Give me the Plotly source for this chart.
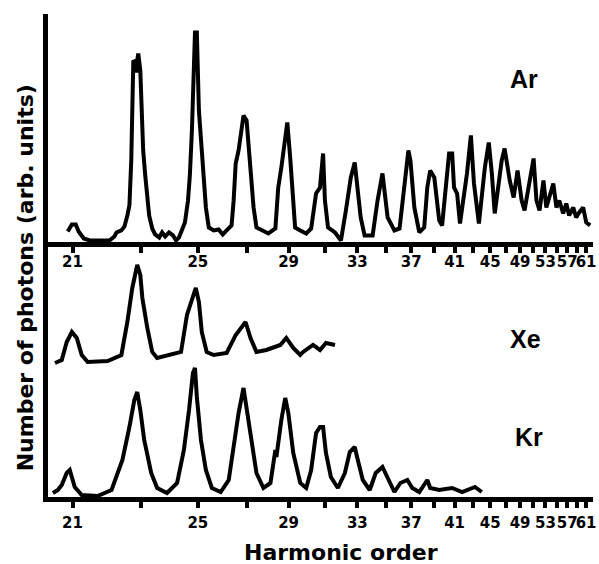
import plotly.graph_objects as go

# ---------------- data ----------------
DRIVER_NM = 800.0                      # fundamental wavelength; harmonic q sits at 800/q nm
harmonic_ticks = list(range(21, 62, 2))   # every odd harmonic gets a tick
harmonic_labels = list(range(21, 62, 4))  # labelled harmonics

# Argon spectrum (top panel): wavelength (nm) vs photon number (arb. units)
ar_wavelength = [38.33, 38.13, 37.94, 37.80, 37.55, 37.26, 36.78, 36.30, 36.06, 35.96,
                 35.72, 35.57, 35.43, 35.33, 35.24, 35.19, 35.14, 35.04, 34.99, 34.95,
                 34.90, 34.80, 34.75, 34.66, 34.56, 34.46, 34.37, 34.22, 34.08, 33.88,
                 33.74, 33.59, 33.40, 33.21, 33.06, 32.92, 32.77, 32.63, 32.48, 32.39,
                 32.29, 32.24, 32.19, 32.14, 32.05, 32.00, 31.95, 31.81, 31.61, 31.47,
                 31.23, 30.99, 30.79, 30.60, 30.36, 30.26, 30.16, 30.02, 29.78, 29.63,
                 29.44, 29.29, 29.15, 28.81, 28.57, 28.23, 28.09, 27.94, 27.75, 27.65,
                 27.51, 27.36, 27.27, 27.02, 26.73, 26.49, 26.25, 26.06, 25.91, 25.82,
                 25.67, 25.33, 25.04, 24.80, 24.56, 24.37, 24.22, 24.08, 23.89, 23.50,
                 23.26, 23.02, 22.77, 22.44, 22.19, 21.95, 21.76, 21.66, 21.47, 21.23,
                 20.99, 20.84, 20.70, 20.50, 20.26, 20.12, 19.88, 19.78, 19.63, 19.54,
                 19.39, 19.25, 18.91, 18.72, 18.57, 18.33, 18.04, 17.85, 17.70, 17.56,
                 17.22, 17.08, 16.83, 16.64, 16.45, 16.25, 16.11, 15.67, 15.53, 15.38,
                 15.19, 15.05, 14.71, 14.56, 14.42, 14.23, 14.08, 13.94, 13.74, 13.60,
                 13.45, 13.26, 13.11, 12.92]
ar_counts = [11, 18, 18, 11, 4, 2, 2, 2, 6, 10,
             12, 16, 27, 37, 82, 142, 182, 180, 170, 182,
             189, 172, 132, 92, 67, 47, 27, 14, 8, 5,
             10, 6, 10, 7, 2, 5, 12, 20, 42, 67,
             112, 147, 182, 210, 210, 162, 132, 92, 35, 15,
             12, 13, 8, 12, 17, 42, 79, 92, 127, 122,
             75, 35, 15, 12, 9, 14, 55, 75, 102, 120,
             85, 35, 15, 12, 9, 14, 49, 55, 89, 42,
             15, 10, 2, 32, 65, 80, 52, 25, 7, 7,
             42, 69, 25, 12, 14, 59, 92, 82, 35, 10,
             15, 55, 72, 65, 22, 17, 75, 89, 89, 55,
             49, 19, 69, 107, 59, 19, 75, 100, 69, 29,
             82, 94, 62, 45, 72, 42, 32, 84, 42, 32,
             62, 35, 59, 35, 42, 29, 39, 27, 35, 25,
             30, 35, 20, 17]

# Xenon spectrum (bottom panel, offset upward)
xe_wavelength = [38.95, 38.62, 38.38, 38.13, 37.89, 37.65, 37.36, 36.88, 36.39, 35.72,
                 35.43, 35.19, 34.95, 34.80, 34.70, 34.46, 34.22, 33.98, 33.30, 32.82,
                 32.53, 32.29, 32.10, 31.95, 31.81, 31.57, 31.23, 30.60, 30.16, 29.68,
                 29.44, 29.15, 28.67, 27.99, 27.70, 27.36, 27.02, 26.88, 26.40, 26.06,
                 25.77, 25.33]
xe_counts = [134, 137, 155, 165, 159, 142, 135, 135, 136, 142,
             175, 209, 232, 222, 199, 169, 145, 139, 142, 145,
             182, 199, 209, 195, 165, 145, 142, 144, 162, 175,
             159, 145, 147, 152, 159, 149, 142, 145, 152, 147,
             154, 152]

# Krypton spectrum (bottom panel)
kr_wavelength = [39.05, 38.81, 38.62, 38.38, 38.23, 38.13, 37.99, 37.65, 36.88, 36.20,
                 35.67, 35.33, 35.09, 34.95, 34.80, 34.61, 34.27, 33.98, 33.50, 33.01,
                 32.68, 32.43, 32.24, 32.14, 32.05, 31.85, 31.61, 31.32, 30.89, 30.50,
                 30.26, 30.02, 29.78, 29.63, 29.39, 29.15, 28.81, 28.47, 28.23, 28.18,
                 27.94, 27.75, 27.60, 27.36, 27.02, 26.73, 26.49, 26.25, 26.06, 25.91,
                 25.77, 25.53, 25.19, 24.85, 24.61, 24.37, 24.22, 23.98, 23.64, 23.35,
                 23.02, 22.77, 22.44, 22.15, 21.81, 21.57, 21.23, 20.84, 20.70, 20.26,
                 19.63, 19.15, 18.52, 18.19]
kr_counts = [4, 7, 12, 24, 27, 19, 10, 2, 1, 7,
             37, 70, 97, 105, 87, 57, 24, 9, 4, 14,
             47, 87, 124, 129, 100, 57, 27, 9, 5, 17,
             54, 84, 109, 90, 54, 24, 9, 14, 47, 40,
             77, 99, 84, 44, 14, 9, 27, 64, 70, 70,
             44, 20, 9, 24, 45, 50, 37, 17, 7, 24,
             30, 19, 5, 14, 17, 9, 5, 17, 9, 7,
             9, 5, 10, 5]

species = ["Ar", "Xe", "Kr"]

# ---------------- figure ----------------
LINE = dict(color="black", width=4)
fig = go.Figure()
fig.add_trace(go.Scatter(x=ar_wavelength, y=ar_counts, mode="lines", line=LINE,
                         xaxis="x2", yaxis="y2", name=species[0], showlegend=False))
fig.add_trace(go.Scatter(x=xe_wavelength, y=xe_counts, mode="lines", line=LINE,
                         xaxis="x", yaxis="y", name=species[1], showlegend=False))
fig.add_trace(go.Scatter(x=kr_wavelength, y=kr_counts, mode="lines", line=LINE,
                         xaxis="x", yaxis="y", name=species[2], showlegend=False))

tickvals = [DRIVER_NM / q for q in harmonic_ticks]
ticktext = [str(q) if q in harmonic_labels else "" for q in harmonic_ticks]
tickfont = dict(family="DejaVu Sans", size=15, color="black", weight="bold")

xcommon = dict(range=[39.29, 12.78], tickvals=tickvals, ticktext=ticktext,
               ticks="outside", ticklen=6, tickwidth=4, tickcolor="black",
               showline=True, linewidth=5, linecolor="black", tickangle=0,
               showgrid=False, zeroline=False, tickfont=tickfont,
               ticklabeloverflow="allow")
ycommon = dict(showline=True, linewidth=4.5, linecolor="black", showticklabels=False,
               ticks="", showgrid=False, zeroline=False)

SPLIT = 0.527
fig.update_layout(
    width=599, height=564,
    margin=dict(l=48, r=2, t=14, b=67),
    paper_bgcolor="white", plot_bgcolor="white",
    xaxis=dict(**xcommon, domain=[0, 1], anchor="y", ticklabelstandoff=2),
    xaxis2=dict(**xcommon, domain=[0, 1], anchor="y2", matches="x", ticklabelstandoff=-4),
    yaxis=dict(**ycommon, domain=[0, SPLIT], range=[0, 254.5], anchor="x"),
    yaxis2=dict(**ycommon, domain=[SPLIT, 1], range=[0, 228.5], anchor="x2"),
)

lab_font = dict(family="Liberation Sans", size=25, color="black", weight="bold")
for name, (ax, ay) in zip(species, [(0.874, 0.865), (0.876, 0.327), (0.882, 0.124)]):
    fig.add_annotation(text=name, xref="paper", yref="paper", x=ax, y=ay,
                       showarrow=False, font=lab_font, xanchor="center", yanchor="middle")

title_font = dict(family="DejaVu Sans", size=22, color="black", weight="bold")
fig.add_annotation(text="Harmonic order", xref="paper", yref="paper", x=0.537, y=-0.114,
                   showarrow=False, font=title_font, xanchor="center", yanchor="middle")
fig.add_annotation(text="Number of photons (arb. units)", xref="paper", yref="paper",
                   x=-0.042, y=0.453, textangle=-90, showarrow=False, font=title_font,
                   xanchor="center", yanchor="middle")

fig.write_html("out.html")
